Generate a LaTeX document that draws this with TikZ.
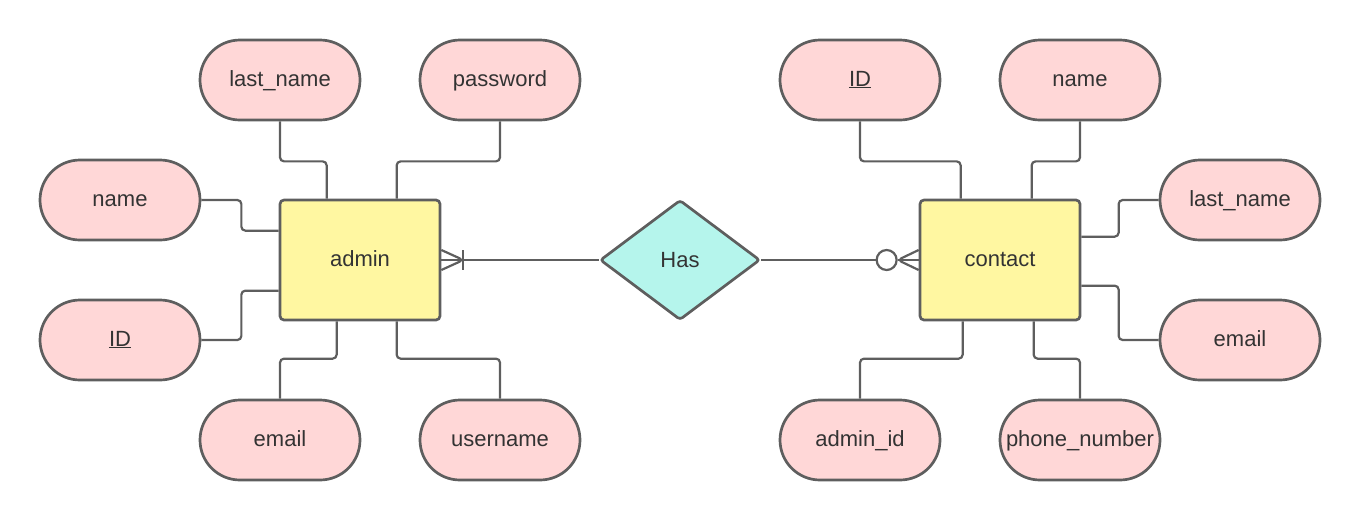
\documentclass[tikz,border=0pt]{standalone}
\usepackage{fontspec}
\setmainfont{Liberation Sans}
\usetikzlibrary{shapes.geometric,calc}
\definecolor{edgegray}{HTML}{5E5E5E}
\definecolor{textgray}{HTML}{333333}
\definecolor{attrpink}{HTML}{FFD7D7}
\definecolor{entyellow}{HTML}{FFF7A1}
\definecolor{relcyan}{HTML}{B5F5EC}
\tikzset{
  attr/.style={draw=edgegray,fill=attrpink,line width=2.7pt,rounded corners=40pt,
    minimum width=160pt,minimum height=80pt,inner sep=0pt,text=textgray,
    text height=16pt,text depth=4pt},
  entity/.style={draw=edgegray,fill=entyellow,line width=2.7pt,rounded corners=4pt,
    minimum width=160pt,minimum height=120pt,inner sep=0pt,text=textgray,
    text height=16pt,text depth=4pt},
  rel/.style={diamond,draw=edgegray,fill=relcyan,line width=2.7pt,rounded corners=3pt,
    aspect=1.333,minimum width=160pt,minimum height=120pt,inner sep=0pt,text=textgray},
  conn/.style={draw=edgegray,line width=2.2pt,rounded corners=4pt},
}
\begin{document}
\begin{tikzpicture}[x=1pt,y=-1pt,font=\fontsize{22}{26}\selectfont]
    \useasboundingbox (0,0) rectangle (1360,520);

    % Entities and relationship
    \node[entity] (admin) at (360,260) {admin};
    \node[entity] (contact) at (1000,260) {contact};
    \node[rel] (has) at (680,260) {Has};

    % admin attributes
    \node[attr] (alname) at (280,80) {last\_name};
    \node[attr] (apass) at (500,80) {password};
    \node[attr] (aname) at (120,200) {name};
    \node[attr] (aid) at (120,340) {\underline{ID}};
    \node[attr] (aemail) at (280,440) {email};
    \node[attr] (auser) at (500,440) {username};

    % contact attributes
    \node[attr] (cid) at (860,80) {\underline{ID}};
    \node[attr] (cname) at (1080,80) {name};
    \node[attr] (clname) at (1240,200) {last\_name};
    \node[attr] (cemail) at (1240,340) {email};
    \node[attr] (cadmin) at (860,440) {admin\_id};
    \node[attr] (cphone) at (1080,440) {phone\_number};

    % Ports on the entity boxes
    \coordinate (a1) at ($(admin.north west)+(48,0)$);
    \coordinate (a2) at ($(admin.north west)+(118,0)$);
    \coordinate (a3) at ($(admin.north west)+(0,32)$);
    \coordinate (a4) at ($(admin.north west)+(0,92)$);
    \coordinate (a5) at ($(admin.south west)+(58,0)$);
    \coordinate (a6) at ($(admin.south west)+(118,0)$);
    \coordinate (c1) at ($(contact.north west)+(42,0)$);
    \coordinate (c2) at ($(contact.north west)+(113,0)$);
    \coordinate (c3) at ($(contact.north east)+(0,38)$);
    \coordinate (c4) at ($(contact.north east)+(0,87)$);
    \coordinate (c5) at ($(contact.south west)+(44,0)$);
    \coordinate (c6) at ($(contact.south west)+(115,0)$);

    % admin connectors
    \draw[conn] (alname.south) -- ++(0,40) -| (a1);
    \draw[conn] (apass.south) -- ++(0,40) -| (a2);
    \draw[conn] (aname.east) -- ++(40,0) |- (a3);
    \draw[conn] (aid.east) -- ++(40,0) |- (a4);
    \draw[conn] (aemail.north) -- ++(0,-40) -| (a5);
    \draw[conn] (auser.north) -- ++(0,-40) -| (a6);

    % contact connectors
    \draw[conn] (cid.south) -- ++(0,40) -| (c1);
    \draw[conn] (cname.south) -- ++(0,40) -| (c2);
    \draw[conn] (clname.west) -- ++(-40,0) |- (c3);
    \draw[conn] (cemail.west) -- ++(-40,0) |- (c4);
    \draw[conn] (cadmin.north) -- ++(0,-40) -| (c5);
    \draw[conn] (cphone.north) -- ++(0,-40) -| (c6);

    % Relationship: one or many admins
    \coordinate (abar) at ($(admin.east)+(22,0)$);
    \draw[conn] (has.west) -- (admin.east);
    \draw[conn] ($(admin.east)+(0,-10)$) -- (abar) -- ($(admin.east)+(0,10)$);
    \draw[conn] ($(abar)+(0,-10)$) -- ($(abar)+(0,10)$);

    % Relationship: zero or many contacts
    \node[circle,draw=edgegray,line width=2.2pt,fill=white,minimum size=20pt,inner sep=0pt]
      (czero) at ($(contact.west)+(-32,0)$) {};
    \draw[conn] (has.east) -- (czero.west);
    \draw[conn] (czero.east) -- (contact.west);
    \draw[conn] ($(contact.west)+(0,-10)$) -- (czero.east) -- ($(contact.west)+(0,10)$);
\end{tikzpicture}
\end{document}
